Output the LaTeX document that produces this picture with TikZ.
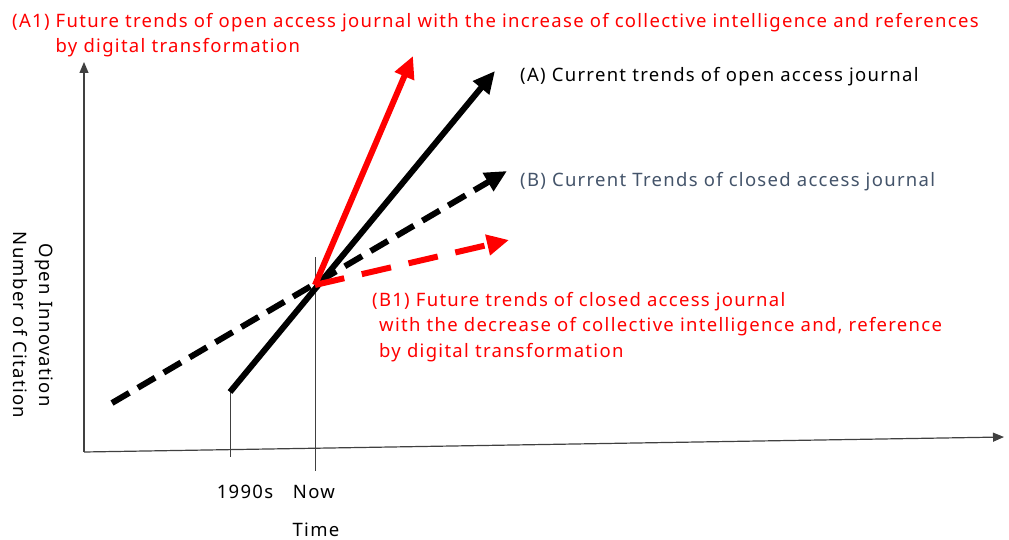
\documentclass[tikz,border=0pt]{standalone}
\usepackage{fontspec}
\setmainfont{Noto Sans}[LetterSpace=7]
\usetikzlibrary{arrows.meta}
\definecolor{slate}{HTML}{44546A}
\definecolor{axisgray}{HTML}{404040}
\begin{document}
\begin{tikzpicture}[x=1pt,y=-1pt,
  lbl/.style={inner sep=0pt,font=\fontsize{18.5}{25.5}\selectfont},
  axisline/.style={draw=axisgray,line width=1.2pt,-{Triangle[length=11pt,width=9pt]}},
  tick/.style={draw=axisgray,line width=1pt},
  trend/.style={line width=6pt,-{Triangle[length=22pt,width=20pt]}},
  bdash/.style={dash pattern=on 20pt off 10pt},
  rdash/.style={dash pattern=on 30pt off 18pt}]
\useasboundingbox (0,0) rectangle (1009,540);
% coordinates
\coordinate (O) at (84,452);
\coordinate (Ytop) at (84,62);
\coordinate (Xend) at (1004,437);
\coordinate (Now) at (315,285);
\coordinate (NowLow) at (315,471);
\coordinate (N90) at (230,392);
\coordinate (N90low) at (230,457);
\coordinate (NowTop) at (315,257);
\coordinate (Aend) at (495,71);
\coordinate (Aone) at (413,56);
\coordinate (Bstart) at (112,403);
\coordinate (Bend) at (507,171);
\coordinate (Bone) at (509,240);
% axes
\draw[axisline] (O) -- (Ytop);
\draw[axisline] (O) -- (Xend);
\draw[tick] (N90) -- (N90low);
\draw[tick] (NowTop) -- (NowLow);
% trends
\draw[trend,bdash] (Bstart) -- (Bend);
\draw[trend] (N90) -- (Aend);
\draw[trend,red] (Now) -- (Aone);
\draw[trend,red,rdash] (Now) -- (Bone);
% labels
\node[lbl,red,anchor=base west,align=left] (tA1) at (12,53)
  {(A1) Future trends of open access journal with the increase of collective intelligence and references\\
  \hphantom{(A1)\ }by digital transformation};
\node[lbl,anchor=base west] (tA) at (520,82) {(A) Current trends of open access journal};
\node[lbl,slate,anchor=base west] (tB) at (520,187) {(B) Current Trends of closed access journal};
\node[lbl,red,anchor=base west,align=left] (tB1) at (372,357)
  {(B1) Future trends of closed access journal\\
  \hspace*{7pt}with the decrease of collective intelligence and, reference\\
  \hspace*{7pt}by digital transformation};
\node[lbl,anchor=base] (t90) at (245,498) {1990s};
\node[lbl,anchor=base] (tNow) at (314,498) {Now};
\node[lbl,anchor=base] (tTime) at (316,536) {Time};
\node[lbl,rotate=-90,align=center] (tY) at (33,325) {Open Innovation\\Number of Citation};
\end{tikzpicture}
\end{document}
